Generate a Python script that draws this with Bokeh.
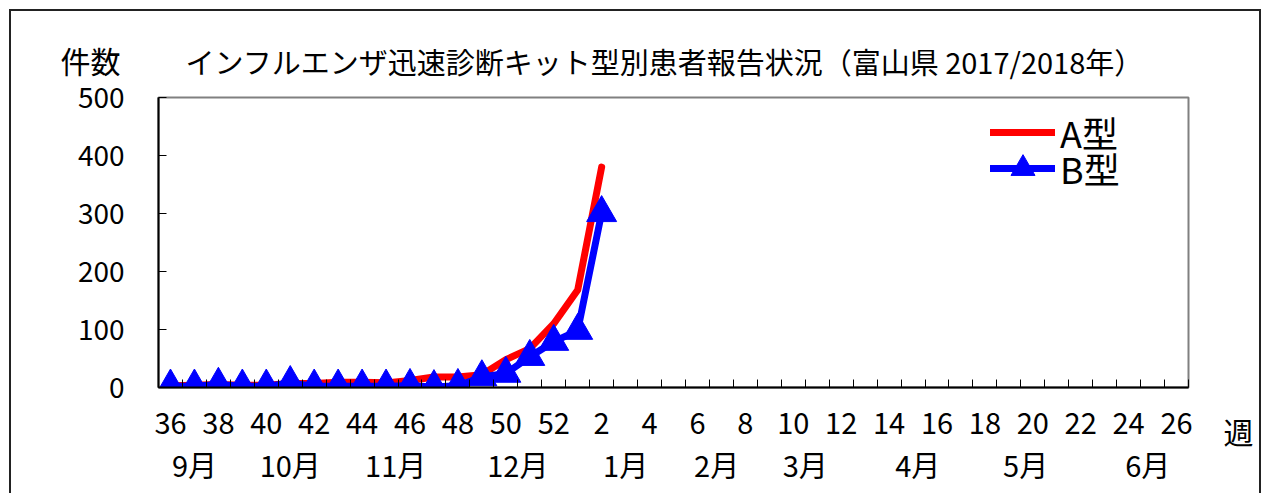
from bokeh.plotting import figure
from bokeh.models import Range1d, FixedTicker, LinearAxis, Label, Legend, LegendItem
from bokeh.embed import file_html
from bokeh.resources import INLINE

# ---- data ----
weeks = list(range(36, 53)) + list(range(1, 27))          # week numbers on the x axis
a_type = [3, 4, 5, 4, 4, 7, 7, 9, 9, 8, 12, 18, 18, 22, 48, 67, 110, 168, 380]
b_type = [2, 2, 5, 2, 2, 8, 2, 2, 2, 2, 3, 1, 3, 18, 24, 53, 79, 98, 301]
month_labels = ["9月", "10月", "11月", "12月", "1月", "2月", "3月", "4月", "5月", "6月"]
month_at = [1.0, 5.0, 9.4, 14.5, 19.0, 22.8, 26.5, 31.2, 35.7, 40.8]   # week-index where month label sits
y_ticks = [0, 100, 200, 300, 400, 500]
title_text = "インフルエンザ迅速診断キット型別患者報告状況（富山県 2017/2018年）"

FONT_NAME = "Noto Sans CJK JP"

idx = list(range(len(weeks)))
xa = idx[:len(a_type)]
xb = idx[:len(b_type)]

p = figure(width=1252, height=484, title=None,
           x_range=Range1d(-0.5, len(weeks) - 0.5), y_range=Range1d(0, 500),
           output_backend="svg", toolbar_location=None,
           min_border_left=147, min_border_right=75, min_border_top=86, min_border_bottom=108)
p.styles = {"border-top": "2px solid #222", "border-left": "2px solid #222",
            "border-right": "2px solid #222", "margin-left": "9px", "margin-top": "9px"}

p.xgrid.visible = False
p.ygrid.visible = False
p.outline_line_color = "#808080"
p.outline_line_width = 2
p.background_fill_color = "white"
p.border_fill_color = "white"

# x axis (week numbers)
xax = p.xaxis[0]
xax.ticker = FixedTicker(ticks=idx[::2], minor_ticks=[i + 0.5 for i in range(-1, len(weeks))])
xax.major_label_overrides = {i: str(weeks[i]) for i in idx[::2]}
xax.major_tick_line_color = None
xax.minor_tick_in = 8
xax.minor_tick_out = 0
xax.minor_tick_line_color = "black"
xax.axis_line_color = "black"
xax.axis_line_width = 2
xax.major_label_text_font = FONT_NAME
xax.major_label_text_font_size = "29px"
xax.major_label_text_color = "black"
xax.major_label_standoff = 19

# second row: months
max2 = LinearAxis(ticker=FixedTicker(ticks=month_at),
                  major_label_overrides={m: t for m, t in zip(month_at, month_labels)})
max2.axis_line_color = None
max2.major_tick_line_color = None
max2.minor_tick_line_color = None
max2.major_label_text_font = FONT_NAME
max2.major_label_text_font_size = "29px"
max2.major_label_text_color = "black"
max2.major_label_standoff = 0
p.add_layout(max2, "below")

# y axis
yax = p.yaxis[0]
yax.ticker = FixedTicker(ticks=y_ticks)
yax.major_tick_in = 8
yax.major_tick_out = 0
yax.minor_tick_line_color = None
yax.axis_line_color = "black"
yax.axis_line_width = 2
yax.major_label_text_font = FONT_NAME
yax.major_label_text_font_size = "28px"
yax.major_label_text_color = "black"
yax.major_label_standoff = 34

# series
la = p.line(xa, a_type, line_color="#FF0000", line_width=7, line_join="round", line_cap="round")
lb = p.line(xb, b_type, line_color="#0000FF", line_width=7, line_join="round", line_cap="round")
mb = p.scatter(xb, b_type, marker="triangle", size=30, fill_color="#0000FF", line_color="#0000FF")

def make_legend(item, loc, gh):
    lg = Legend(items=[item], location=loc, orientation="vertical")
    lg.background_fill_alpha = 0
    lg.border_line_color = None
    lg.label_text_font = FONT_NAME
    lg.label_text_font_size = "36px"
    lg.label_text_color = "black"
    lg.glyph_width = 65
    lg.glyph_height = gh
    lg.label_standoff = 5
    lg.spacing = 0
    lg.padding = 0
    lg.margin = 0
    return lg

p.add_layout(make_legend(LegendItem(label="A型", renderers=[la]), (832, 229), 30), "center")
p.add_layout(make_legend(LegendItem(label="B型", renderers=[lb, mb]), (832, 189), 60), "center")

# texts around the frame (side panels are not clipped)
p.add_layout(Label(x=-68, y=38, x_units="screen", y_units="screen", text="件数",
                   text_align="center", text_baseline="middle", text_font=FONT_NAME,
                   text_font_size="30px", text_color="black"), "above")
p.add_layout(Label(x=27, y=-7, x_units="screen", y_units="screen", text=title_text,
                   text_align="left", text_baseline="middle", text_font=FONT_NAME,
                   text_font_size="29px", text_color="black"), "above")
p.add_layout(Label(x=50, y=-43, x_units="screen", y_units="screen", text="週",
                   text_align="center", text_baseline="middle", text_font=FONT_NAME,
                   text_font_size="30px", text_color="black"), "right")

open("out.html", "w").write(file_html(p, INLINE))
